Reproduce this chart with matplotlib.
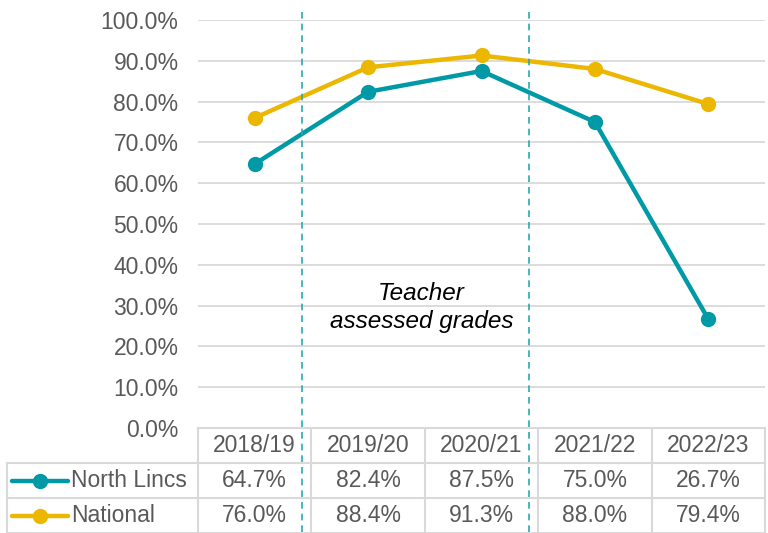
import matplotlib
matplotlib.use("Agg")
import matplotlib.pyplot as plt
from matplotlib.transforms import blended_transform_factory
from matplotlib.lines import Line2D

plt.rcParams['font.family'] = ['Liberation Sans', 'DejaVu Sans']

years = ['2018/19', '2019/20', '2020/21', '2021/22', '2022/23']
north_lincs = [64.7, 82.4, 87.5, 75.0, 26.7]
national = [76.0, 88.4, 91.3, 88.0, 79.4]
series_names = ['North Lincs', 'National']

teal = '#0099A6'
gold = '#EBB700'
grey_txt = '#595959'
grid_col = '#D9D9D9'
fs = 16.5

W, H = 768, 533
fig = plt.figure(figsize=(W / 100, H / 100), dpi=100)

x0, x1 = 198, 765
ytop, ybot = 20, 428
ax = fig.add_axes([x0 / W, (H - ybot) / H, (x1 - x0) / W, (ybot - ytop) / H])
xs = list(range(len(years)))

ax.plot(xs, north_lincs, color=teal, lw=3.2, marker='o', ms=10, zorder=3)
ax.plot(xs, national, color=gold, lw=3.2, marker='o', ms=10, zorder=3)

ax.set_xlim(-0.5, len(years) - 0.5)
ax.set_ylim(0, 100)
ax.set_yticks(range(0, 101, 10))
ax.set_yticklabels([f'{v:.1f}%' for v in range(0, 101, 10)])
ax.tick_params(axis='y', length=0, pad=14, labelsize=fs, labelcolor=grey_txt)
ax.set_xticks([])
ax.grid(axis='y', color=grid_col, lw=1.3)
ax.set_axisbelow(True)
for s in ax.spines.values():
    s.set_visible(False)

# dashed markers for teacher assessed years
trans = blended_transform_factory(ax.transData, ax.transAxes)
for xd in [0.42, 2.42]:
    ax.add_line(Line2D([xd, xd], [1.02, -0.257], transform=trans, color='#2AA9B3',
                       lw=1.2, ls=(0, (4, 3)), clip_on=False, zorder=4))

ax.text(1.47, 33.0, 'Teacher', ha='center', va='center', style='italic',
        fontsize=17.5, color='black')
ax.text(1.47, 26.0, 'assessed grades', ha='center', va='center', style='italic',
        fontsize=17.5, color='black')

# data table below
tax = fig.add_axes([x0 / W, 0, (x1 - x0) / W, (H - ybot) / H])
tax.set_xlim(-0.5, len(years) - 0.5)
row_h = 35.0
tax.set_ylim((H - ybot) / row_h, 0)
tax.axis('off')

lw_t = 1.5
colw = (x1 - x0) / len(years)
legend_left = -0.5 - (x0 - 7) / colw
tax.plot([-0.5, len(years) - 0.5], [0, 0], color=grid_col, lw=lw_t, clip_on=False)
for r in [1, 2, 3]:
    tax.plot([legend_left, len(years) - 0.5], [r, r], color=grid_col, lw=lw_t, clip_on=False)
for i in range(len(years) + 1):
    tax.plot([i - 0.5, i - 0.5], [0, 3], color=grid_col, lw=lw_t, clip_on=False)
tax.plot([legend_left, legend_left], [1, 3], color=grid_col, lw=lw_t, clip_on=False)

for i, yr in enumerate(years):
    tax.text(i, 0.5, yr, ha='center', va='center', fontsize=fs, color=grey_txt)

for r, (name, vals, col) in enumerate(zip(series_names, [north_lincs, national], [teal, gold])):
    yc = r + 1.5
    lx0 = legend_left + 5 / colw
    lx1 = legend_left + 61 / colw
    tax.plot([lx0, lx1], [yc, yc], color=col, lw=3.2, solid_capstyle='round', clip_on=False)
    tax.plot([(lx0 + lx1) / 2], [yc], marker='o', ms=10, color=col, clip_on=False)
    tax.text(lx1 + 3 / colw, yc, name, ha='left', va='center', fontsize=fs, color=grey_txt)
    for i, v in enumerate(vals):
        tax.text(i, yc, f'{v:.1f}%', ha='center', va='center', fontsize=fs, color=grey_txt)

fig.savefig('out.png', dpi=100)
